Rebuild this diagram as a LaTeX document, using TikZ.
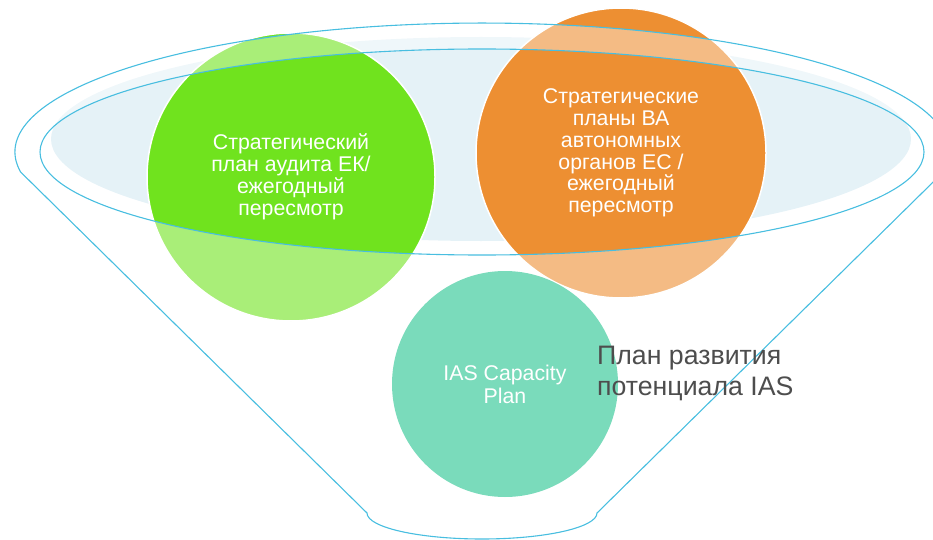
\documentclass[tikz,border=0pt]{standalone}
\usepackage{fontspec}
\setmainfont{Liberation Sans}
\usepackage{tikz}
\usetikzlibrary{shapes,positioning}
\usepackage{xcolor}
\definecolor{fnline}{RGB}{72,190,224}
\definecolor{fnmouth}{RGB}{229,242,247}
\definecolor{fngreen}{RGB}{112,227,30}
\definecolor{fnorange}{RGB}{237,143,50}
\definecolor{fnteal}{RGB}{122,219,187}
\definecolor{fntext}{RGB}{77,77,77}
\tikzstyle{bubble} = [circle, draw=white, line width=1.5pt, text=white, align=center, font=\fontsize{21.3}{21.8}\selectfont]
\tikzstyle{rim} = [draw=fnline, line width=1.1pt, fill=white, fill opacity=0.4, even odd rule]

\begin{document}
\begin{tikzpicture}[x=1pt, y=-1pt]
\useasboundingbox (0,0) rectangle (933,540);
\fill[fnmouth] (481,139) ellipse [x radius=430, y radius=102];

\node (audit) [bubble, fill=fngreen, minimum size=288pt] at (291,177) {Стратегический\\план аудита ЕК/\\ежегодный\\пересмотр};
\node (agencies) [bubble, fill=fnorange, minimum size=290pt] at (621,153) {Стратегические\\планы ВА\\автономных\\органов ЕС /\\ежегодный\\пересмотр};

% funnel: outer rim and cone, then the mouth
\path[rim] (20.6,172) arc[start angle=171.1, end angle=368.9, x radius=467, y radius=129]
  -- (597,513) arc[start angle=0, end angle=180, x radius=115, y radius=26] -- cycle
  (482,152) ellipse [x radius=442, y radius=103];

\node (ias) [bubble, fill=fnteal, draw=none, minimum size=226pt, font=\fontsize{21.3}{23}\selectfont] at (505,384) {IAS Capacity\\Plan};
\node (result) [anchor=west, inner sep=0pt, align=left, text=fntext, font=\fontsize{26.7}{31}\selectfont] at (597,373.5) {План развития\\потенциала IAS};
\end{tikzpicture}
\end{document}
